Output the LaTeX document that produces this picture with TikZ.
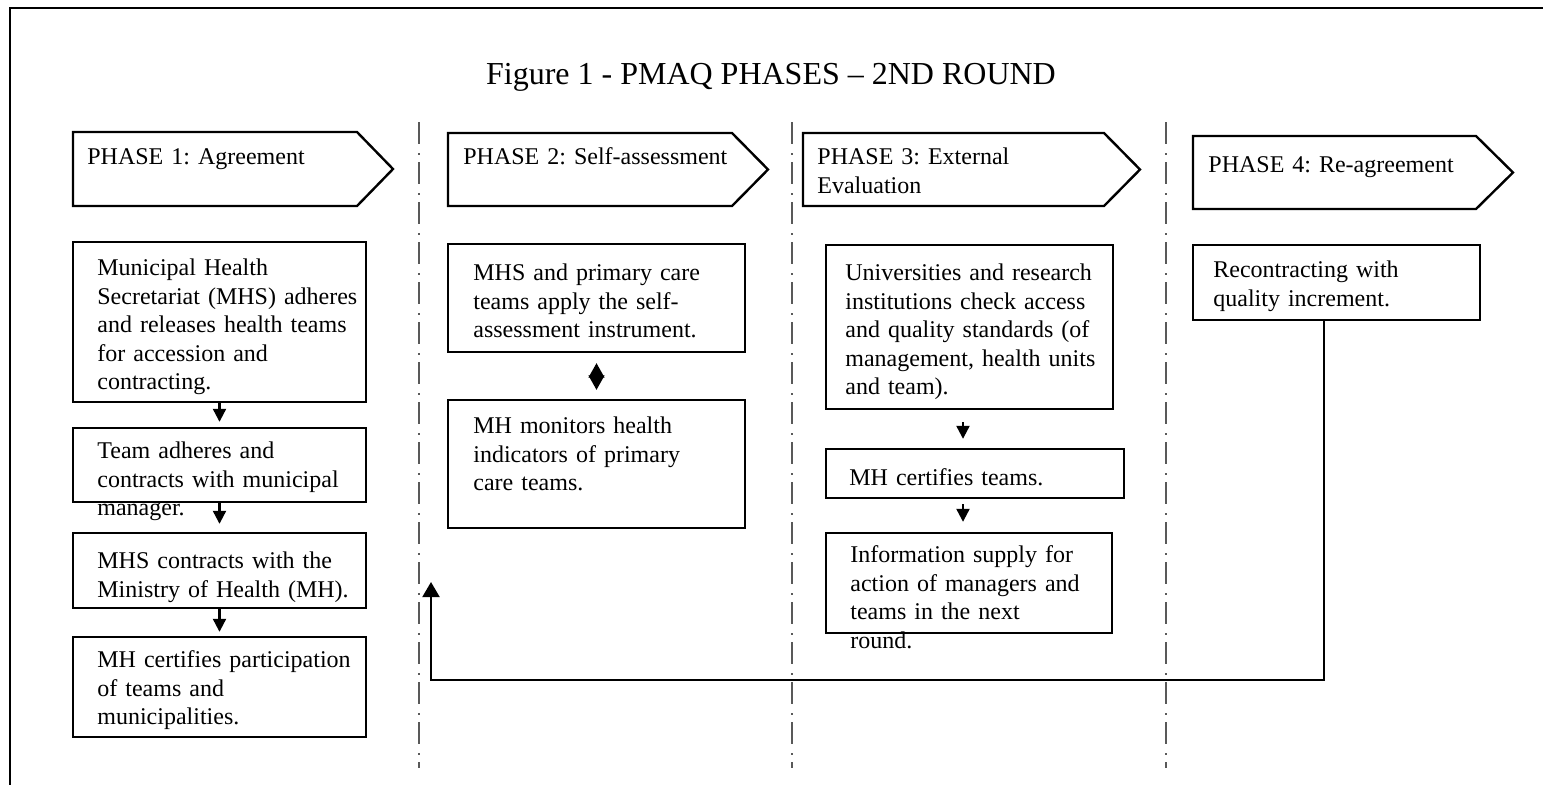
\documentclass[tikz,border=0pt]{standalone}
\usepackage{fontspec}
\setmainfont{Liberation Serif}
\usetikzlibrary{arrows.meta,fit}
\frenchspacing
\begin{document}
\begin{tikzpicture}[x=0.5pt,y=-0.5pt,
  box/.style={draw, line width=1.2pt, inner sep=0pt},
  txt/.style={anchor=north west, inner sep=0pt, align=left, text width=150pt,
    font=\fontsize{12}{14.3}\selectfont},
  phase/.style={draw, line width=1.2pt, line join=miter},
  sep/.style={draw=black!65, line width=1pt,
    dash pattern=on 11pt off 4.5pt on 1pt off 3.5pt},
  flow/.style={line width=1.1pt, -{Triangle[length=6.5pt,width=6.5pt]}},
  ]
\useasboundingbox (0,0) rectangle (1543,784);
\clip (0,0) rectangle (1543,784);

% outer frame
\draw[line width=1.4pt] (10,8) rectangle (1600,840);

% title
\node[anchor=base, inner sep=0pt, font=\fontsize{16}{19}\selectfont] (title) at (771,84)
  {Figure 1 - PMAQ PHASES -- 2ND ROUND};

% phase banners
\draw[phase] (73,132) -- (357,132) -- (393,169) -- (357,206) -- (73,206) -- cycle;
\draw[phase] (448,133) -- (732,133) -- (768,169.5) -- (732,206) -- (448,206) -- cycle;
\draw[phase] (803,133) -- (1104,133) -- (1140,169.5) -- (1104,206) -- (803,206) -- cycle;
\draw[phase] (1193,136) -- (1476,136) -- (1513,172.5) -- (1476,209) -- (1193,209) -- cycle;
\node[txt] (p1) at (87,144) {\strut PHASE 1: Agreement};
\node[txt] (p2) at (463,144) {\strut PHASE 2: Self-assessment};
\node[txt] (p3) at (817,144) {\strut PHASE 3: External\\Evaluation};
\node[txt] (p4) at (1208,152) {\strut PHASE 4: Re-agreement};

% column separators
\draw[sep] (419,122) -- (419,768);
\draw[sep] (792,122) -- (792,768);
\draw[sep] (1166,122) -- (1166,768);

% phase 1 boxes
\node[box, fit={(73,242) (366,402)}] (a1) {};
\node[box, fit={(73,428) (366,502)}] (a2) {};
\node[box, fit={(73,533) (366,608)}] (a3) {};
\node[box, fit={(73,637) (366,737)}] (a4) {};
\node[txt] (a1t) at (97,255) {\strut Municipal Health\\Secretariat (MHS) adheres\\and releases health teams\\for accession and\\contracting.};
\node[txt] (a2t) at (97,438) {\strut Team adheres and\\contracts with municipal\\manager.};
\node[txt] (a3t) at (97,548) {\strut MHS contracts with the\\Ministry of Health (MH).};
\node[txt] (a4t) at (97,647) {\strut MH certifies participation\\of teams and\\municipalities.};

% phase 2 boxes
\node[box, fit={(448,244) (745,352)}] (b1) {};
\node[box, fit={(448,400) (745,528)}] (b2) {};
\node[txt] (b1t) at (473,260) {\strut MHS and primary care\\teams apply the self-\\assessment instrument.};
\node[txt] (b2t) at (473,413) {\strut MH monitors health\\indicators of primary\\care teams.};

% phase 3 boxes
\node[box, fit={(826,245) (1113,409)}] (c1) {};
\node[box, fit={(826,449) (1124,498)}] (c2) {};
\node[box, fit={(826,533) (1112,633)}] (c3) {};
\node[txt] (c1t) at (845,260) {\strut Universities and research\\institutions check access\\and quality standards (of\\management, health units\\and team).};
\node[txt] (c2t) at (849,465) {\strut MH certifies teams.};
\node[txt] (c3t) at (850,542) {\strut Information supply for\\action of managers and\\teams in the next\\round.};

% phase 4 box
\node[box, fit={(1193,245) (1480,320)}] (d1) {};
\node[txt] (d1t) at (1213,257) {\strut Recontracting with\\quality increment.};

% flow arrows
\draw[flow, shorten >=2.5pt] (a1) -- (a2);
\draw[flow, shorten >=4pt] (a2) -- (a3);
\draw[flow, shorten >=2pt] (a3) -- (a4);
\draw[flow, shorten <=6pt, shorten >=4.5pt] ([xshift=-3.25pt]c1.south) -- ([xshift=-3.25pt]c1.south |- c2.north);
\draw[flow, shorten <=2.5pt, shorten >=5pt] ([xshift=-3.25pt]c1.south |- c2.south) -- ([xshift=-3.25pt]c1.south |- c3.north);

% two-way link between self-assessment and monitoring
\draw[line width=0.6pt, {Triangle[length=7.25pt,width=8pt]}-{Triangle[length=7.25pt,width=8pt]},
  shorten <=5pt, shorten >=4.5pt] (b1) -- (b2);

% return loop to the next round
\coordinate (retend) at (431,582);
\draw[line width=1pt, -{Triangle[length=7.5pt,width=8.5pt]}]
  ([xshift=-6.25pt]d1.south) |- (retend |- 0,680) -- (retend);
\end{tikzpicture}
\end{document}
